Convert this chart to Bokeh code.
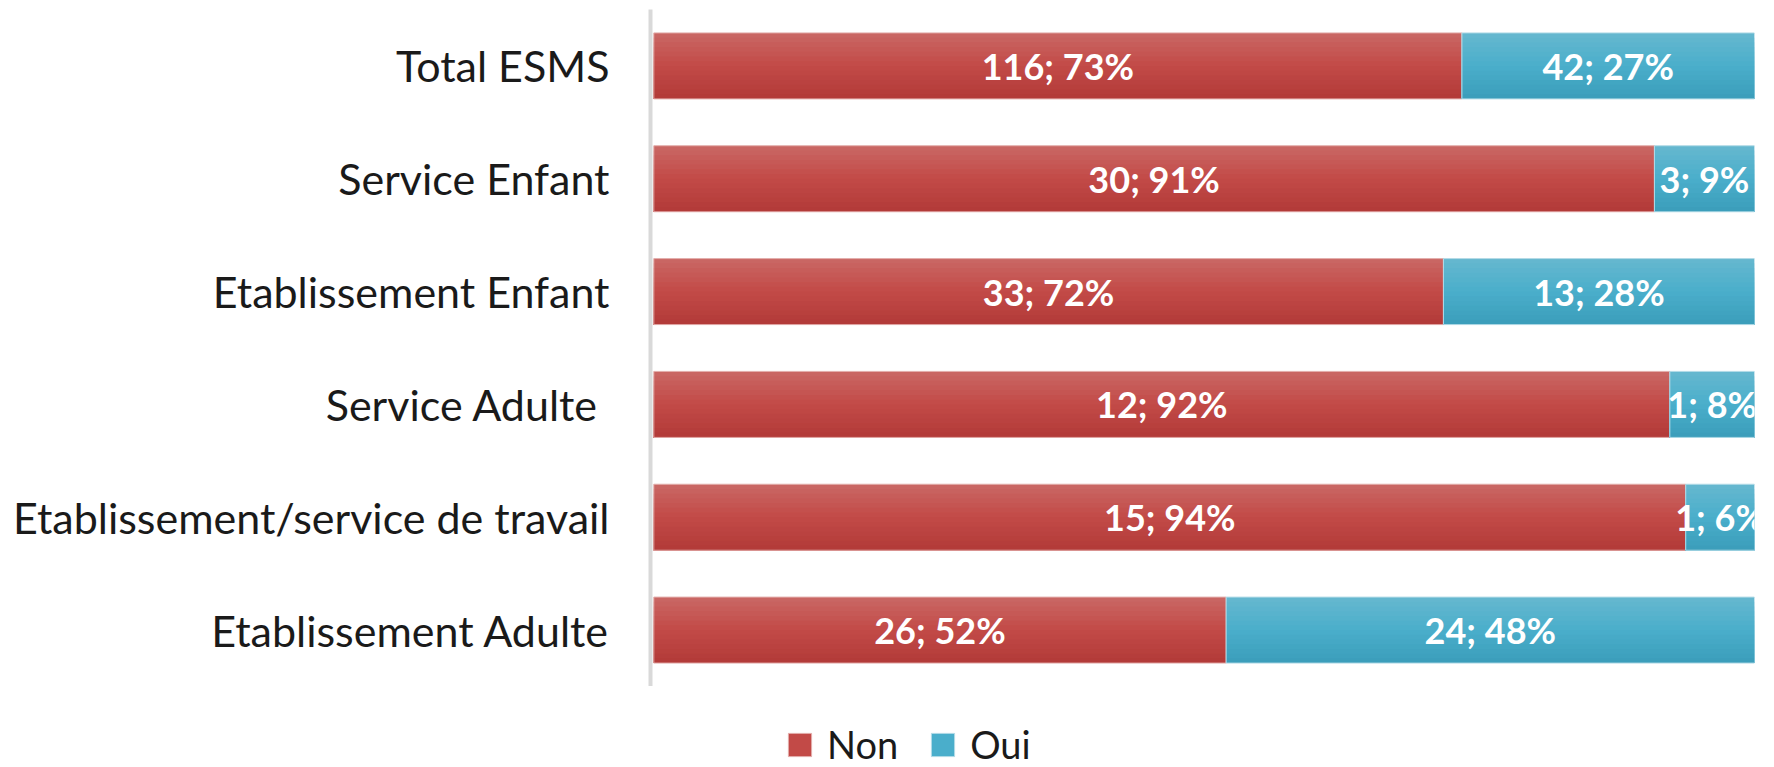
from bokeh.plotting import figure
from bokeh.layouts import column
from bokeh.models import FactorRange, Range1d, ColumnDataSource, Legend, LegendItem
from bokeh.transform import dodge
from bokeh.core.properties import value
from bokeh.embed import file_html
from bokeh.resources import INLINE

categories = ["Total ESMS", "Service Enfant", "Etablissement Enfant", "Service Adulte ",
              "Etablissement/service de travail", "Etablissement Adulte"]
non_counts = [116, 30, 33, 12, 15, 26]
oui_counts = [42, 3, 13, 1, 1, 24]
series_names = ["Non", "Oui"]

FONT = "Lato"
BAR_H = 0.585
N_STRIPS = 14

totals = [a + b for a, b in zip(non_counts, oui_counts)]
non_pct = [a / t for a, t in zip(non_counts, totals)]
oui_pct = [b / t for b, t in zip(oui_counts, totals)]

src = ColumnDataSource(dict(
    cat=categories,
    non_l=[0.0] * len(categories),
    non_r=non_pct,
    oui_l=non_pct,
    oui_r=[1.0] * len(categories),
    non_mid=[p / 2 for p in non_pct],
    oui_mid=[p + q / 2 for p, q in zip(non_pct, oui_pct)],
    non_lab=[f"{n}; {round(p * 100)}%" for n, p in zip(non_counts, non_pct)],
    oui_lab=[f"{n}; {round(p * 100)}%" for n, p in zip(oui_counts, oui_pct)],
))

p = figure(width=1774, height=686,
           y_range=FactorRange(factors=list(reversed(categories)), range_padding=0),
           x_range=Range1d(-0.003, 1.0),
           output_backend="svg", toolbar_location=None,
           min_border_left=650, min_border_right=20, min_border_top=9, min_border_bottom=0)
p.outline_line_color = None
p.xgrid.visible = False
p.ygrid.visible = False
p.xaxis.visible = False

def hexmix(c1, c2, t):
    a = [int(c1[i:i + 2], 16) for i in (1, 3, 5)]
    b = [int(c2[i:i + 2], 16) for i in (1, 3, 5)]
    return "#%02x%02x%02x" % tuple(round(x + (y - x) * t) for x, y in zip(a, b))

grad = {
    "non": ("#ca6865", "#c24a47", "#b23a38"),
    "oui": ("#66b8cf", "#4aaecb", "#3b9dba"),
}
border = {"non": "#e3aeac", "oui": "#b3dbe7"}
sh = BAR_H / N_STRIPS
for key in ("non", "oui"):
    top, mid, bot = grad[key]
    for i in range(N_STRIPS):
        # strip i spans from its own top edge down to the bar bottom
        t = (i + 0.5) / N_STRIPS
        col = hexmix(top, mid, t * 2) if t < 0.5 else hexmix(mid, bot, (t - 0.5) * 2)
        h = BAR_H - i * sh
        off = BAR_H / 2 - i * sh - h / 2
        p.hbar(y=dodge("cat", off, range=p.y_range), left=key + "_l", right=key + "_r",
               height=h, source=src, fill_color=col, line_color=None)
    p.hbar(y="cat", left=key + "_l", right=key + "_r", height=BAR_H, source=src,
           fill_alpha=0, line_color=border[key], line_width=1)

for key in ("non", "oui"):
    p.text(x=key + "_mid", y="cat", text=key + "_lab", source=src,
           text_align="center", text_baseline="middle", text_color="white",
           text_font=value(FONT), text_font_style="bold", text_font_size="36px")

ax = p.yaxis[0]
ax.axis_line_color = "#d9d9d9"
ax.axis_line_width = 4
ax.major_tick_line_color = None
ax.minor_tick_line_color = None
ax.major_tick_out = 0
ax.major_tick_in = 0
ax.major_label_standoff = 41
ax.major_label_text_font = FONT
ax.major_label_text_font_size = "43px"
ax.major_label_text_color = "#1a1a1a"

# legend strip below the chart
lg = figure(width=1774, height=81, x_range=Range1d(0, 1), y_range=Range1d(0, 1),
            output_backend="svg", toolbar_location=None,
            min_border_left=0, min_border_right=0, min_border_top=0, min_border_bottom=0)
lg.outline_line_color = None
lg.xaxis.visible = False
lg.yaxis.visible = False
lg.xgrid.visible = False
lg.ygrid.visible = False
leg_src = ColumnDataSource(dict(y=[-5], l=[-5], r=[-4]))
leg_r = {key: lg.hbar(y="y", left="l", right="r", height=1, source=leg_src,
                      fill_color=grad[key][1], line_color=border[key], line_width=1)
         for key in ("non", "oui")}

legend = Legend(items=[LegendItem(label=series_names[0], renderers=[leg_r["non"]]),
                       LegendItem(label=series_names[1], renderers=[leg_r["oui"]])],
                orientation="horizontal", location=(135, 0),
                glyph_width=29, glyph_height=29, label_standoff=13, spacing=30,
                padding=0, margin=0, border_line_color=None, background_fill_alpha=0,
                label_text_font=FONT, label_text_font_size="38px", label_text_color="#1a1a1a",
                label_height=26)
lg.add_layout(legend, "center")

open("out.html", "w").write(file_html(column(p, lg, spacing=0), INLINE))
